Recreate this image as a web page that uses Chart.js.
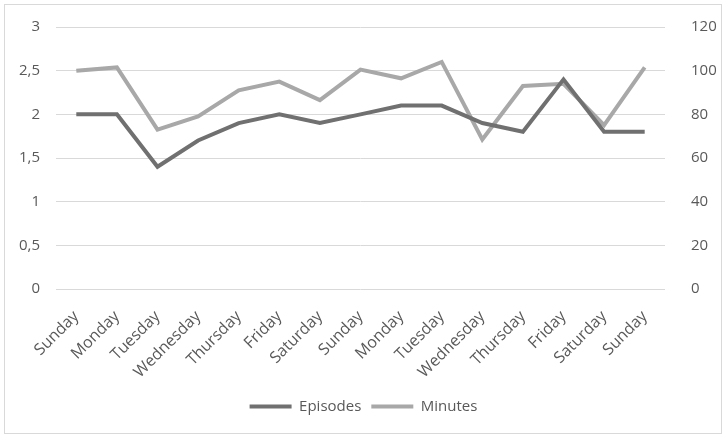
<!DOCTYPE html>
<html lang="en">
<head>
  <meta charset="UTF-8">
  <title>Episodes and Minutes</title>
  <script src="https://cdn.jsdelivr.net/npm/chart.js"></script>
  <style>
    html, body { margin: 0; padding: 0; background: #fff; }
    #wrap { position: relative; width: 727px; height: 438px; }
    #frame { position: absolute; left: 4px; top: 4px; width: 716px; height: 428px; border: 1px solid #d9d9d9; pointer-events: none; }
  </style>
</head>
<body>
  <div id="wrap">
    <canvas id="chart" width="727" height="438"></canvas>
    <div id="frame"></div>
  </div>
  <script>
    // data
    const days = ['Sunday', 'Monday', 'Tuesday', 'Wednesday', 'Thursday', 'Friday', 'Saturday',
                  'Sunday', 'Monday', 'Tuesday', 'Wednesday', 'Thursday', 'Friday', 'Saturday', 'Sunday'];
    const episodes = [2, 2, 1.4, 1.7, 1.9, 2, 1.9, 2, 2.1, 2.1, 1.9, 1.8, 2.4, 1.8, 1.8];
    const minutes = [100, 101.5, 73, 79, 91, 95, 86.5, 100.5, 96.5, 104, 68.5, 93, 94, 75, 101.5];

    const textColor = '#595959';
    const gridColor = '#d9d9d9';

    new Chart(document.getElementById('chart'), {
      type: 'line',
      data: {
        labels: days,
        datasets: [
          { label: 'Episodes', data: episodes, yAxisID: 'y', borderColor: '#707070', backgroundColor: '#707070',
            borderWidth: 4, pointRadius: 0, tension: 0 },
          { label: 'Minutes', data: minutes, yAxisID: 'y2', borderColor: '#a8a8a8', backgroundColor: '#a8a8a8',
            borderWidth: 4, pointRadius: 0, tension: 0 }
        ]
      },
      options: {
        responsive: false,
        animation: false,
        layout: { padding: { top: 18, left: 0, right: 0, bottom: 14 } },
        plugins: {
          tooltip: { enabled: false },
          legend: {
            position: 'bottom',
            labels: {
              color: textColor,
              font: { family: 'Open Sans', size: 15 },
              boxWidth: 42,
              boxHeight: 4,
              padding: 10,
              generateLabels: chart => chart.data.datasets.map((ds, i) => ({
                text: ds.label, fillStyle: ds.borderColor, strokeStyle: ds.borderColor,
                lineWidth: 0, hidden: false, datasetIndex: i, fontColor: textColor
              }))
            }
          }
        },
        scales: {
          x: {
            offset: true,
            grid: { display: false },
            border: { display: false },
            ticks: { color: textColor, font: { family: 'Open Sans', size: 16 }, maxRotation: 45, minRotation: 45,
                     autoSkip: false, padding: 10 },
            afterFit: s => { s.height = 100; }
          },
          y: {
            position: 'left',
            min: 0, max: 3,
            grid: { color: gridColor, lineWidth: 1, drawTicks: false },
            border: { display: false },
            ticks: { stepSize: 0.5, color: textColor, font: { family: 'Open Sans', size: 15 }, padding: 16,
                     callback: v => String(v).replace('.', ',') },
            afterFit: s => { s.width = 56; }
          },
          y2: {
            position: 'right',
            min: 0, max: 120,
            grid: { display: false },
            border: { display: false },
            ticks: { stepSize: 20, color: textColor, font: { family: 'Open Sans', size: 15 }, padding: 18 },
            afterFit: s => { s.width = 62; }
          }
        }
      }
    });
  </script>
</body>
</html>
